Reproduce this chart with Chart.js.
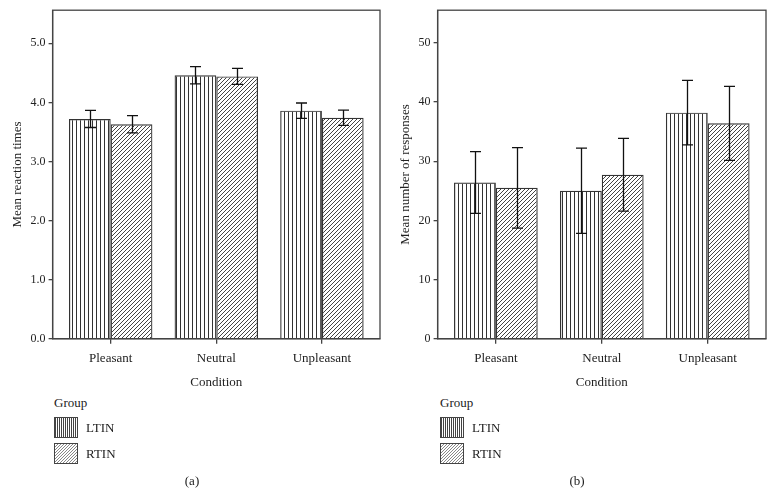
<!DOCTYPE html>
<html>
<head>
<meta charset="utf-8">
<script src="https://cdn.jsdelivr.net/npm/chart.js@4"></script>
<style>
  body { margin: 0; background: #fff; font-family: "Liberation Serif", serif; color: #222; }
  .panel { position: absolute; top: 0; width: 386px; height: 496px; }
  .box { position: absolute; left: 0; top: 0; width: 386px; height: 392px; }
  .lg-title { position: absolute; left: 54px; top: 395px; font-size: 13px; color: #222; }
  .lg-row { position: absolute; left: 54px; font-size: 13px; color: #222; display: flex; align-items: center; }
  .lg-row canvas { border: 1.5px solid #444; margin-right: 8px; }
  .caption { position: absolute; top: 473px; font-size: 13px; color: #222; width: 40px; text-align: center; }
</style>
</head>
<body>
<div class="panel" style="left:0">
  <div class="box"><canvas id="chartA"></canvas></div>
  <div class="lg-title">Group</div>
  <div class="lg-row" style="top:417px"><canvas id="swA1" width="22" height="19"></canvas>LTIN</div>
  <div class="lg-row" style="top:443px"><canvas id="swA2" width="22" height="19"></canvas>RTIN</div>
  <div class="caption" style="left:172px">(a)</div>
</div>
<div class="panel" style="left:386px">
  <div class="box"><canvas id="chartB"></canvas></div>
  <div class="lg-title">Group</div>
  <div class="lg-row" style="top:417px"><canvas id="swB1" width="22" height="19"></canvas>LTIN</div>
  <div class="lg-row" style="top:443px"><canvas id="swB2" width="22" height="19"></canvas>RTIN</div>
  <div class="caption" style="left:171px">(b)</div>
</div>
<script>
// data
const conditions = ["Pleasant", "Neutral", "Unpleasant"];

// (a) mean reaction times
const rtLTIN = [3.72, 4.46, 3.86];
const rtLTINErr = [0.145, 0.145, 0.13];
const rtRTIN = [3.63, 4.44, 3.74];
const rtRTINErr = [0.145, 0.135, 0.13];

// (b) mean number of responses
const respLTIN = [26.4, 25.0, 38.2];
const respLTINErr = [5.2, 7.2, 5.45];
const respRTIN = [25.5, 27.7, 36.4];
const respRTINErr = [6.8, 6.15, 6.25];

const FONT = "Liberation Serif";
const INK = "#222";
const LINE = "#444";

// hatch patterns
function vertPattern(step, color) {
  const c = document.createElement("canvas");
  c.width = step; c.height = step;
  const g = c.getContext("2d");
  g.strokeStyle = color; g.lineWidth = 1;
  g.beginPath(); g.moveTo(0.5, 0); g.lineTo(0.5, step); g.stroke();
  return g.createPattern(c, "repeat");
}
function diagPattern(step, color) {
  const c = document.createElement("canvas");
  c.width = step; c.height = step;
  const g = c.getContext("2d");
  g.strokeStyle = color; g.lineWidth = 1;
  g.beginPath();
  g.moveTo(0, step); g.lineTo(step, 0);
  g.moveTo(-1, 1); g.lineTo(1, -1);
  g.moveTo(step - 1, step + 1); g.lineTo(step + 1, step - 1);
  g.stroke();
  return g.createPattern(c, "repeat");
}

// error bars drawn from the y scale
const errorBars = {
  id: "errorBars",
  afterDatasetsDraw(chart) {
    const ctx = chart.ctx, y = chart.scales.y;
    ctx.save();
    ctx.strokeStyle = "#111";
    ctx.lineWidth = 1.3;
    chart.data.datasets.forEach((ds, i) => {
      chart.getDatasetMeta(i).data.forEach((bar, j) => {
        const v = ds.data[j].y, e = ds.errs[j];
        const top = y.getPixelForValue(v + e), bot = y.getPixelForValue(v - e);
        const x = Math.round(bar.x) + 0.5;
        ctx.beginPath();
        ctx.moveTo(x, top); ctx.lineTo(x, bot);
        ctx.moveTo(x - 5.5, top); ctx.lineTo(x + 5.5, top);
        ctx.moveTo(x - 5.5, bot); ctx.lineTo(x + 5.5, bot);
        ctx.stroke();
      });
    });
    ctx.restore();
  }
};

// box round the plot area
const frame = {
  id: "frame",
  afterDraw(chart) {
    const a = chart.chartArea, ctx = chart.ctx;
    ctx.save();
    ctx.strokeStyle = LINE;
    ctx.lineWidth = 1.3;
    ctx.strokeRect(a.left, a.top, a.right - a.left, a.bottom - a.top);
    ctx.restore();
  }
};

function makeChart(id, ltin, ltinErr, rtin, rtinErr, yMax, step, yTitle, dec, padLeft) {
  const ctx = document.getElementById(id).getContext("2d");
  return new Chart(ctx, {
    type: "bar",
    data: {
      datasets: [
        {
          label: "LTIN",
          data: ltin.map((v, i) => ({ x: i, y: v })),
          errs: ltinErr,
          backgroundColor: vertPattern(4, "#333"),
          borderColor: "#333",
          borderWidth: 1.2
        },
        {
          label: "RTIN",
          data: rtin.map((v, i) => ({ x: i, y: v })),
          errs: rtinErr,
          backgroundColor: diagPattern(4, "#444"),
          borderColor: "#333",
          borderWidth: 1.2
        }
      ]
    },
    options: {
      responsive: true,
      maintainAspectRatio: false,
      animation: false,
      layout: { padding: { left: padLeft, right: 6, top: 9, bottom: 2 } },
      datasets: { bar: { categoryPercentage: 0.79, barPercentage: 1 } },
      plugins: { legend: { display: false }, tooltip: { enabled: false } },
      scales: {
        x: {
          type: "linear",
          offset: false,
          min: -0.55,
          max: 2.55,
          afterBuildTicks: s => { s.ticks = conditions.map((_, i) => ({ value: i })); },
          ticks: {
            callback: v => conditions[v],
            font: { family: FONT, size: 13 },
            color: INK,
            padding: 7,
            maxRotation: 0
          },
          grid: { offset: false, drawOnChartArea: false, tickLength: 5, color: LINE, lineWidth: 1.3 },
          border: { color: LINE, width: 1.3 },
          title: {
            display: true, text: "Condition", color: INK,
            font: { family: FONT, size: 13 }, padding: { top: 1, bottom: 0 }
          }
        },
        y: {
          min: 0,
          max: yMax,
          afterBuildTicks: s => {
            s.ticks = s.ticks.filter(t => Math.abs(t.value / step - Math.round(t.value / step)) < 1e-6);
          },
          ticks: {
            stepSize: step,
            callback: v => v.toFixed(dec),
            font: { family: FONT, size: 12 },
            color: INK,
            padding: 3
          },
          grid: { drawOnChartArea: false, tickLength: 4, color: LINE, lineWidth: 1.3 },
          border: { color: LINE, width: 1.3 },
          title: {
            display: true, text: yTitle, color: INK,
            font: { family: FONT, size: 13 }, padding: { top: 4, bottom: 2 }
          }
        }
      }
    },
    plugins: [errorBars, frame]
  });
}

makeChart("chartA", rtLTIN, rtLTINErr, rtRTIN, rtRTINErr, 5.56, 1, "Mean reaction times", 1, 6);
makeChart("chartB", respLTIN, respLTINErr, respRTIN, respRTINErr, 55.5, 10, "Mean number of responses", 0, 8);

// legend swatches
function swatch(id, pattern) {
  const g = document.getElementById(id).getContext("2d");
  g.fillStyle = "#fff"; g.fillRect(0, 0, 22, 19);
  g.fillStyle = pattern; g.fillRect(0, 0, 22, 19);
}
swatch("swA1", vertPattern(2, "#444"));
swatch("swA2", diagPattern(3, "#888"));
swatch("swB1", vertPattern(2, "#444"));
swatch("swB2", diagPattern(3, "#888"));
</script>
</body>
</html>
